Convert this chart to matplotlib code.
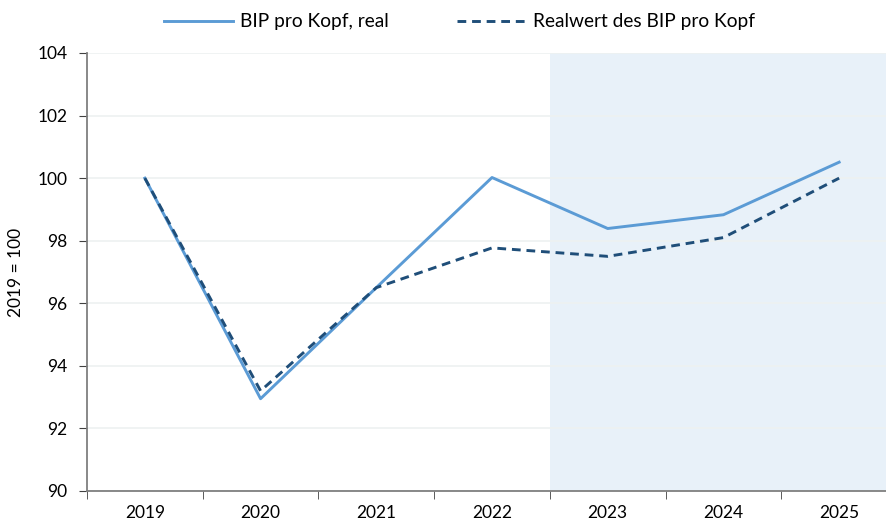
import matplotlib.pyplot as plt
import numpy as np

years = ["2019", "2020", "2021", "2022", "2023", "2024", "2025"]
bip_real = [100.0, 92.95, 96.5, 100.02, 98.39, 98.83, 100.51]
realwert = [100.0, 93.2, 96.5, 97.77, 97.5, 98.1, 100.0]
forecast_start = 4  # first shaded category (2023)

plt.rcParams['font.family'] = ['Lato', 'DejaVu Sans']

fig = plt.figure(figsize=(8.87, 5.23), dpi=100)
ax = fig.add_axes([87 / 887, 1 - 491 / 523, 810 / 887, 438 / 523])

x = np.arange(len(years))
ax.axvspan(forecast_start - 0.5, len(years) - 0.5, color="#E8F1F9", zorder=0, lw=0)
ax.plot(x, bip_real, color="#5B9BD5", lw=2.1, label="BIP pro Kopf, real", zorder=3)
ax.plot(x, realwert, color="#1F4E79", lw=2.1, ls=(0, (3, 2)), label="Realwert des BIP pro Kopf", zorder=4)

ax.set_xlim(-0.5, len(years) - 0.5)
ax.set_ylim(90, 104)
ax.set_yticks(np.arange(90, 105, 2))
ax.set_xticks(x)
ax.set_xticklabels(years)
ax.set_xticks(np.arange(-0.5, len(years), 1), minor=True)
ax.tick_params(axis="x", which="major", length=0, pad=10, labelsize=12.5)
ax.tick_params(axis="x", which="minor", length=6, direction="out", color="#404040")
ax.tick_params(axis="y", length=6, direction="out", color="#404040", labelsize=12.5, pad=8)

ax.grid(axis="y", color="#EEF1F1", lw=1.2, zorder=1)
ax.set_axisbelow(True)
for s in ["top", "right"]:
    ax.spines[s].set_visible(False)
for s in ["left", "bottom"]:
    ax.spines[s].set_color("#7F7F7F")
    ax.spines[s].set_linewidth(1.3)

ax.set_ylabel("2019 = 100", fontsize=12.5, labelpad=10)

fig.legend(loc="center", bbox_to_anchor=(0.518, 1 - 22 / 523), ncol=2, frameon=False,
           fontsize=13.8, handlelength=3.6, columnspacing=3.6, handletextpad=0.35)

fig.savefig("out.png", dpi=100)
